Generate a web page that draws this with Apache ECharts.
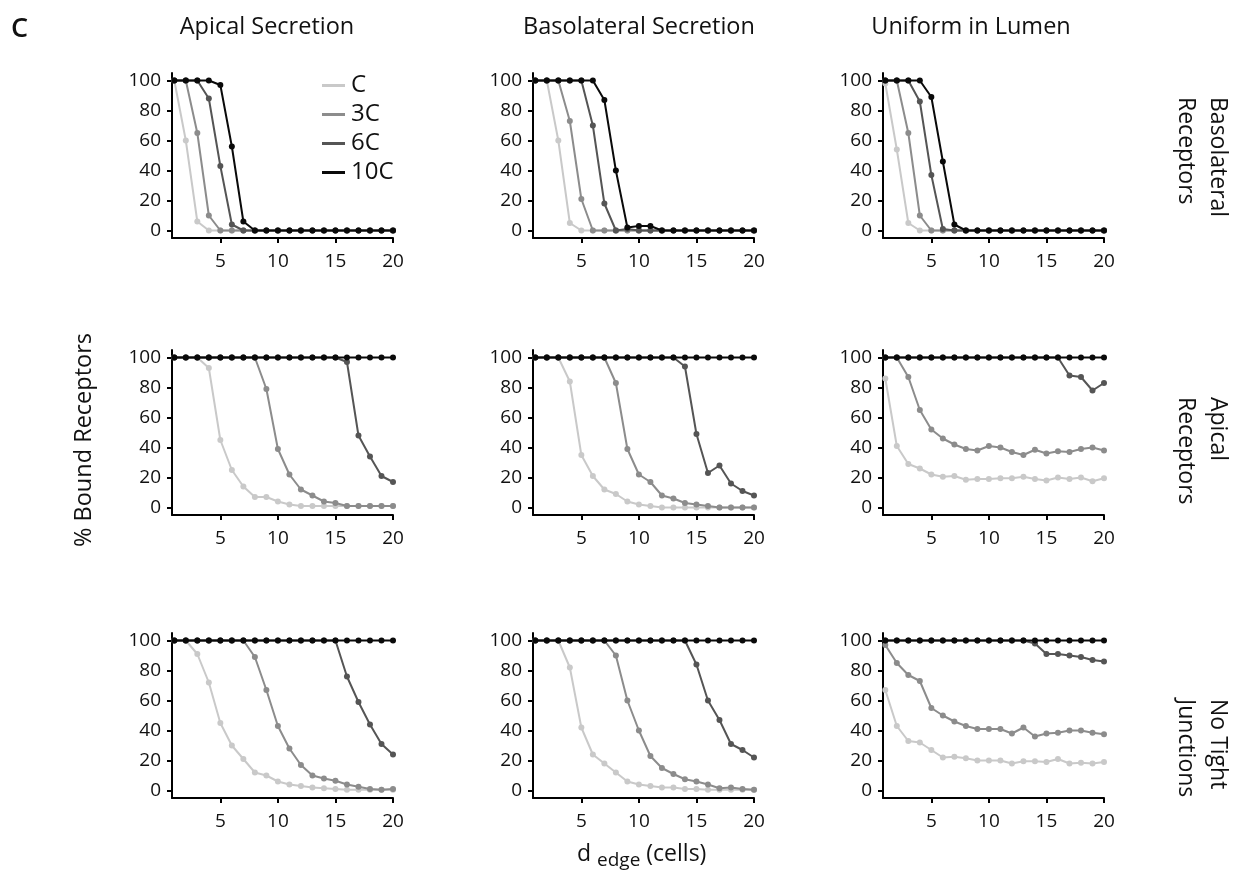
<!DOCTYPE html>
<html>
<head>
<meta charset="utf-8">
<script src="https://cdn.jsdelivr.net/npm/echarts@6/dist/echarts.min.js"></script>
<style>
  html, body { margin: 0; padding: 0; background: #fff; }
  #chart { width: 1243px; height: 884px; }
</style>
</head>
<body>
<div id="chart"></div>
<script>
// x positions (d_edge, cells) and tick labels
const dEdge = [1, 2, 3, 4, 5, 6, 7, 8, 9, 10, 11, 12, 13, 14, 15, 16, 17, 18, 19, 20];
const xTicks = [5, 10, 15, 20];
const yTicks = [0, 20, 40, 60, 80, 100];

const colTitles = ['Apical Secretion', 'Basolateral Secretion', 'Uniform in Lumen'];
const rowTitles = ['Basolateral\nReceptors', 'Apical\nReceptors', 'No Tight\nJunctions'];
const doses = ['C', '3C', '6C', '10C'];

// row 1: basolateral receptors
const apiSec_basoRec_C   = [100, 60, 6, 0, 0, 0, 0, 0, 0, 0, 0, 0, 0, 0, 0, 0, 0, 0, 0, 0];
const apiSec_basoRec_3C  = [100, 100, 65, 10, 0, 0, 0, 0, 0, 0, 0, 0, 0, 0, 0, 0, 0, 0, 0, 0];
const apiSec_basoRec_6C  = [100, 100, 100, 88, 43, 4, 0, 0, 0, 0, 0, 0, 0, 0, 0, 0, 0, 0, 0, 0];
const apiSec_basoRec_10C = [100, 100, 100, 100, 97, 56, 6, 0, 0, 0, 0, 0, 0, 0, 0, 0, 0, 0, 0, 0];

const basSec_basoRec_C   = [100, 100, 60, 5, 0, 0, 0, 0, 0, 0, 0, 0, 0, 0, 0, 0, 0, 0, 0, 0];
const basSec_basoRec_3C  = [100, 100, 100, 73, 21, 0, 0, 0, 0, 0, 0, 0, 0, 0, 0, 0, 0, 0, 0, 0];
const basSec_basoRec_6C  = [100, 100, 100, 100, 100, 70, 18, 0, 1, 0, 0, 0, 0, 0, 0, 0, 0, 0, 0, 0];
const basSec_basoRec_10C = [100, 100, 100, 100, 100, 100, 87, 40, 2, 3, 3, 0, 0, 0, 0, 0, 0, 0, 0, 0];

const uniLum_basoRec_C   = [98, 54, 5, 0, 0, 0, 0, 0, 0, 0, 0, 0, 0, 0, 0, 0, 0, 0, 0, 0];
const uniLum_basoRec_3C  = [100, 100, 65, 10, 0, 0, 0, 0, 0, 0, 0, 0, 0, 0, 0, 0, 0, 0, 0, 0];
const uniLum_basoRec_6C  = [100, 100, 100, 86, 37, 1, 0, 0, 0, 0, 0, 0, 0, 0, 0, 0, 0, 0, 0, 0];
const uniLum_basoRec_10C = [100, 100, 100, 100, 89, 46, 4, 0, 0, 0, 0, 0, 0, 0, 0, 0, 0, 0, 0, 0];

// row 2: apical receptors
const apiSec_apiRec_C   = [100, 100, 100, 93, 45, 25, 14, 7, 7, 4, 2, 1, 1, 1, 1, 1, 1, 1, 1, 1];
const apiSec_apiRec_3C  = [100, 100, 100, 100, 100, 100, 100, 100, 79, 39, 22, 12, 8, 4, 3, 1, 1, 1, 1, 1];
const apiSec_apiRec_6C  = [100, 100, 100, 100, 100, 100, 100, 100, 100, 100, 100, 100, 100, 100, 100, 97, 48, 34, 21, 17];
const apiSec_apiRec_10C = [100, 100, 100, 100, 100, 100, 100, 100, 100, 100, 100, 100, 100, 100, 100, 100, 100, 100, 100, 100];

const basSec_apiRec_C   = [100, 100, 100, 84, 35, 21, 12, 9, 4, 2, 1, 0, 0, 0, 0, 0, 0, 0, 0, 0];
const basSec_apiRec_3C  = [100, 100, 100, 100, 100, 100, 100, 83, 39, 22, 17, 8, 6, 3, 2, 1, 0, 0, 0, 0];
const basSec_apiRec_6C  = [100, 100, 100, 100, 100, 100, 100, 100, 100, 100, 100, 100, 100, 94, 49, 23, 28, 16, 11, 8];
const basSec_apiRec_10C = [100, 100, 100, 100, 100, 100, 100, 100, 100, 100, 100, 100, 100, 100, 100, 100, 100, 100, 100, 100];

const uniLum_apiRec_C   = [86, 41, 29, 26, 22, 20.5, 21, 18.5, 19, 19, 19.5, 19.5, 20.5, 19, 18, 20, 19, 20, 17.5, 19.5];
const uniLum_apiRec_3C  = [100, 100, 87, 65, 52, 46, 42, 39, 38, 41, 40, 37, 35, 38.5, 36, 37.5, 37, 39, 40, 38];
const uniLum_apiRec_6C  = [100, 100, 100, 100, 100, 100, 100, 100, 100, 100, 100, 100, 100, 100, 100, 100, 88, 87, 78, 83];
const uniLum_apiRec_10C = [100, 100, 100, 100, 100, 100, 100, 100, 100, 100, 100, 100, 100, 100, 100, 100, 100, 100, 100, 100];

// row 3: no tight junctions
const apiSec_noTJ_C   = [100, 100, 91, 72, 45, 30, 21, 12, 10, 6, 4, 3, 2, 1.5, 1, 0.5, 0.5, 0.5, 0.5, 0.5];
const apiSec_noTJ_3C  = [100, 100, 100, 100, 100, 100, 100, 89, 67, 43, 28, 17, 10, 8, 6.5, 4, 2.5, 1, 0.5, 1];
const apiSec_noTJ_6C  = [100, 100, 100, 100, 100, 100, 100, 100, 100, 100, 100, 100, 100, 100, 100, 76, 59, 44, 31, 24];
const apiSec_noTJ_10C = [100, 100, 100, 100, 100, 100, 100, 100, 100, 100, 100, 100, 100, 100, 100, 100, 100, 100, 100, 100];

const basSec_noTJ_C   = [100, 100, 100, 82, 42, 24, 18, 12, 6, 4, 3, 2, 2, 1, 1, 0.5, 0.5, 0.5, 0.5, 0.5];
const basSec_noTJ_3C  = [100, 100, 100, 100, 100, 100, 100, 90, 60, 40, 23, 15, 11, 7.5, 6, 4, 1.5, 2, 1, 0.5];
const basSec_noTJ_6C  = [100, 100, 100, 100, 100, 100, 100, 100, 100, 100, 100, 100, 100, 100, 84, 60, 47, 31, 27, 22];
const basSec_noTJ_10C = [100, 100, 100, 100, 100, 100, 100, 100, 100, 100, 100, 100, 100, 100, 100, 100, 100, 100, 100, 100];

const uniLum_noTJ_C   = [67, 43, 33, 32, 27, 22, 22.5, 21.5, 20, 20, 20, 18, 19.5, 19.5, 19, 21, 18, 18.5, 18, 19];
const uniLum_noTJ_3C  = [97, 85, 77, 73, 55, 50, 46, 43, 41, 41, 41, 38, 42, 36, 38, 38.5, 40, 40, 38.5, 37.5];
const uniLum_noTJ_6C  = [100, 100, 100, 100, 100, 100, 100, 100, 100, 100, 100, 100, 100, 98, 91, 91, 90, 89, 87, 86];
const uniLum_noTJ_10C = [100, 100, 100, 100, 100, 100, 100, 100, 100, 100, 100, 100, 100, 100, 100, 100, 100, 100, 100, 100];

// panels[row][col] -> [C, 3C, 6C, 10C]
const panels = [
  [
    [apiSec_basoRec_C, apiSec_basoRec_3C, apiSec_basoRec_6C, apiSec_basoRec_10C],
    [basSec_basoRec_C, basSec_basoRec_3C, basSec_basoRec_6C, basSec_basoRec_10C],
    [uniLum_basoRec_C, uniLum_basoRec_3C, uniLum_basoRec_6C, uniLum_basoRec_10C],
  ],
  [
    [apiSec_apiRec_C, apiSec_apiRec_3C, apiSec_apiRec_6C, apiSec_apiRec_10C],
    [basSec_apiRec_C, basSec_apiRec_3C, basSec_apiRec_6C, basSec_apiRec_10C],
    [uniLum_apiRec_C, uniLum_apiRec_3C, uniLum_apiRec_6C, uniLum_apiRec_10C],
  ],
  [
    [apiSec_noTJ_C, apiSec_noTJ_3C, apiSec_noTJ_6C, apiSec_noTJ_10C],
    [basSec_noTJ_C, basSec_noTJ_3C, basSec_noTJ_6C, basSec_noTJ_10C],
    [uniLum_noTJ_C, uniLum_noTJ_3C, uniLum_noTJ_6C, uniLum_noTJ_10C],
  ],
];

const FONT = "'Open Sans', 'Noto Sans', sans-serif";
const colors = ['#c9c9c9', '#8c8c8c', '#555555', '#0a0a0a'];
const colLeft = [172, 533, 883];
const rowTop = [73, 350, 633];
const gridW = 221;
const gridH = 165;

const grid = [];
const xAxis = [];
const yAxis = [];
const series = [];

panels.forEach((row, r) => {
  row.forEach((lines, c) => {
    const idx = grid.length;
    grid.push({
      left: colLeft[c],
      top: rowTop[r],
      width: gridW,
      height: gridH,
      outerBoundsMode: 'none',
    });
    xAxis.push({
      type: 'value',
      gridIndex: idx,
      min: 0.8,
      max: 20,
      splitLine: { show: false },
      axisLine: { show: true, onZero: false, lineStyle: { color: '#000', width: 2 } },
      axisTick: { show: true, customValues: xTicks, length: 5, lineStyle: { color: '#000', width: 2 } },
      axisLabel: { customValues: xTicks, color: '#111', fontSize: 19, fontFamily: FONT, margin: 14 },
    });
    yAxis.push({
      type: 'value',
      gridIndex: idx,
      min: -5,
      max: 105,
      splitLine: { show: false },
      axisLine: { show: true, onZero: false, lineStyle: { color: '#000', width: 2 } },
      axisTick: { show: true, customValues: yTicks, length: 5, lineStyle: { color: '#000', width: 2 } },
      axisLabel: { customValues: yTicks, color: '#111', fontSize: 19, fontFamily: FONT, margin: 11 },
    });
    lines.forEach((vals, k) => {
      series.push({
        name: doses[k],
        type: 'line',
        xAxisIndex: idx,
        yAxisIndex: idx,
        data: dEdge.map((x, i) => [x, vals[i]]),
        symbol: 'circle',
        symbolSize: 6,
        showSymbol: true,
        silent: true,
        animation: false,
        color: colors[k],
        itemStyle: { color: colors[k] },
        lineStyle: { color: colors[k], width: 2 },
        z: 2 + k,
      });
    });
  });
});

const graphic = [];
// panel letter
graphic.push({
  type: 'text', x: 11, y: 29,
  style: { text: 'C', font: `600 27px ${FONT}`, fill: '#111', textVerticalAlign: 'middle' },
});
// column titles
const colCenters = [267, 639, 971];
colTitles.forEach((t, i) => {
  graphic.push({
    type: 'text', x: colCenters[i], y: 27,
    style: { text: t, font: `23.5px ${FONT}`, fill: '#111', textAlign: 'center', textVerticalAlign: 'middle' },
  });
});
// row titles, rotated, reading top to bottom
const rowStarts = [97, 397, 699];
rowTitles.forEach((t, i) => {
  graphic.push({
    type: 'text', x: 1234, y: rowStarts[i], rotation: -Math.PI / 2,
    style: { text: t, font: `23px ${FONT}`, fill: '#111', textAlign: 'left', textVerticalAlign: 'top', lineHeight: 32 },
  });
});
// y axis title
graphic.push({
  type: 'text', x: 84, y: 440, rotation: Math.PI / 2,
  style: { text: '% Bound Receptors', font: `23.5px ${FONT}`, fill: '#111', textAlign: 'center', textVerticalAlign: 'middle' },
});

const chart = echarts.init(document.getElementById('chart'), null, { renderer: 'canvas' });
chart.setOption({
  backgroundColor: '#fff',
  animation: false,
  title: {
    text: '{a|d }{sub|edge}{a| (cells)}',
    left: 572,
    top: 834,
    textStyle: {
      rich: {
        a: { fontSize: 23, fontWeight: 'normal', fontFamily: FONT, color: '#111', lineHeight: 30 },
        sub: { fontSize: 19, fontWeight: 'normal', fontFamily: FONT, color: '#111', lineHeight: 30, padding: [14, 0, 0, 0] },
      },
    },
  },
  legend: {
    data: doses,
    orient: 'vertical',
    left: 317,
    top: 66,
    icon: 'rect',
    itemWidth: 23,
    itemHeight: 3,
    itemGap: 0,
    textStyle: { fontSize: 24, fontFamily: FONT, color: '#111', lineHeight: 29, padding: [0, 0, 0, 1] },
    selectedMode: false,
  },
  grid,
  xAxis,
  yAxis,
  series,
  graphic,
});
</script>
</body>
</html>
